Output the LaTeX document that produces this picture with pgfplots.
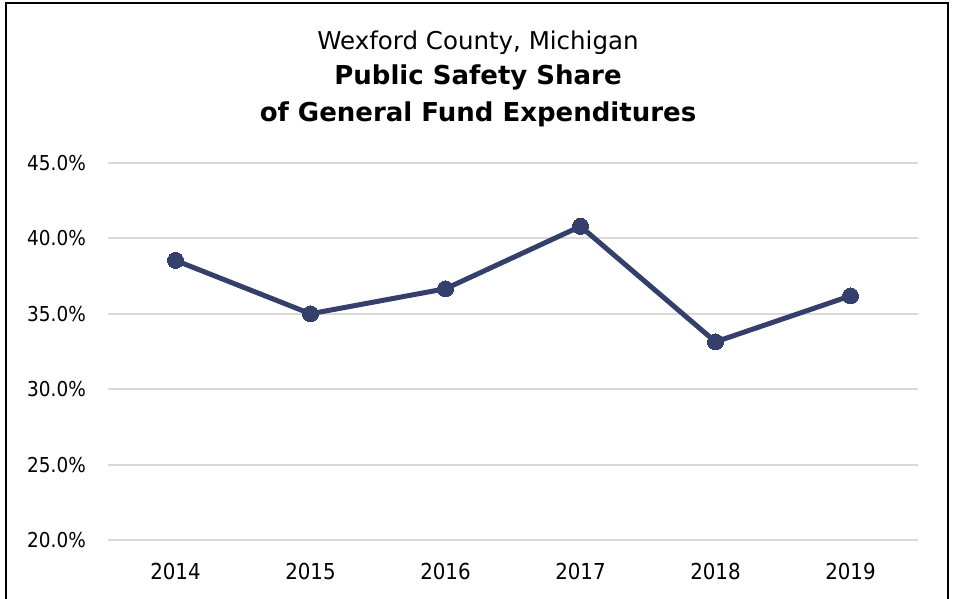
\documentclass[border=0pt]{standalone}
\usepackage{fontspec}
\setmainfont{DejaVu Sans Condensed}
\newfontfamily\titlefont{DejaVu Sans}
\usepackage{pgfplots}
\pgfplotsset{compat=1.18}
\definecolor{navy}{RGB}{52,64,107}
\definecolor{gridgray}{RGB}{217,217,217}
\begin{document}
\begin{tikzpicture}[x=1pt,y=1pt]
\useasboundingbox (0,0) rectangle (957,598);
\draw[line width=2.5pt] (6,-20) -- (6,595) -- (948,595) -- (948,-20);
\node[anchor=base,font=\titlefont\fontsize{24.5}{28}\selectfont] at (478,548) {Wexford County, Michigan};
\node[anchor=base,font=\titlefont\fontsize{26}{30}\selectfont\bfseries] at (478,513) {Public Safety Share};
\node[anchor=base,font=\titlefont\fontsize{26}{30}\selectfont\bfseries] at (478,476) {of General Fund Expenditures};
\begin{axis}[
  at={(108pt,58pt)}, anchor=south west,
  scale only axis, width=810pt, height=377pt,
  xmin=-0.5, xmax=5.5, ymin=20, ymax=45,
  xtick={0,1,2,3,4,5},
  xticklabels={2014,2015,2016,2017,2018,2019},
  ytick={20,25,30,35,40,45},
  axis line style={draw=none},
  major tick length=0pt,
  ymajorgrids, grid style={gridgray, line width=2pt},
  yticklabel={\pgfmathprintnumber[fixed,fixed zerofill,precision=1]{\tick}\%},
  /pgf/number format/assume math mode=true,
  y tick label style={font=\fontsize{20.5}{24}\selectfont, anchor=east, inner sep=0pt, xshift=-22pt},
  x tick label style={font=\fontsize{22}{26}\selectfont, anchor=center, inner sep=0pt, yshift=-31pt},
  clip=false,
]
\addplot[navy, line width=5pt, mark=*, mark size=8pt, mark options={fill=navy, draw=navy, line width=0pt}]
  coordinates {(0,38.54) (1,35.0) (2,36.66) (3,40.8) (4,33.14) (5,36.19)};
\end{axis}
\end{tikzpicture}
\end{document}
